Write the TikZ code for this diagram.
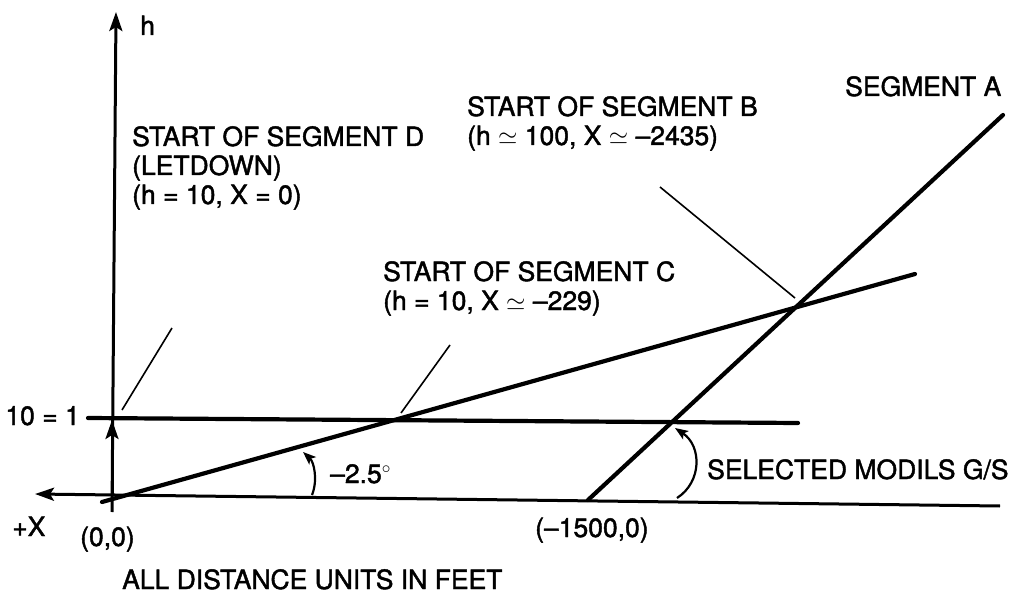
\documentclass[tikz,border=0pt]{standalone}
\usepackage{fontspec}
\setmainfont{TeX Gyre Heros}
\newfontfamily\lblfont{TeX Gyre Heros}[FakeBold=1.6]
\usetikzlibrary{arrows.meta}
\begin{document}
\begin{tikzpicture}[x=1pt,y=-1pt,
  lbl/.style={anchor=base west, inner sep=0pt, font=\lblfont\fontsize{26.5}{28}\selectfont},
  segline/.style={line width=4.2pt, line cap=round},
  axisline/.style={line width=3pt},
  leader/.style={line width=1.6pt},
  anglearc/.style={line width=2.2pt, -{Stealth[length=13pt,width=10pt,inset=3pt]}},
  axtip/.style={-{Stealth[length=19pt,width=13pt,inset=4pt]}}]
\useasboundingbox (0,0) rectangle (1018,599);
% coordinates
\coordinate (hbot) at (112,512);
\coordinate (htop) at (116,12);
\coordinate (xright) at (1000,506);
\coordinate (xleft) at (35,494);
\coordinate (O) at (112,496);
\coordinate (tenO) at (112,420);
\coordinate (ten0) at (88,418);
\coordinate (ten1) at (798,423);
\coordinate (c0) at (102,502);
\coordinate (c1) at (915,274);
\coordinate (a0) at (588,500);
\coordinate (a1) at (1003,115);
\coordinate (dl0) at (122,410);
\coordinate (dl1) at (172,328);
\coordinate (cl0) at (401,413);
\coordinate (cl1) at (450,345);
\coordinate (bl0) at (795,298);
\coordinate (bl1) at (660,187);
\coordinate (g0) at (312,495);
\coordinate (g1) at (303,452);
\coordinate (m0) at (677,498);
\coordinate (m1) at (675,428);
% axes
\draw[axisline,axtip] (hbot) -- (htop);
\draw[axisline,axtip] (xright) -- (xleft);
\draw[axisline,axtip] (O) -- (tenO);
% lines
\draw[segline] (ten0) -- (ten1);
\draw[segline] (c0) -- (c1);
\draw[segline] (a0) -- (a1);
% leaders
\draw[leader] (dl0) -- (dl1);
\draw[leader] (cl0) -- (cl1);
\draw[leader] (bl0) -- (bl1);
% angle arcs
\draw[anglearc] (g0) .. controls (318,480) and (314,462) .. (g1);
\draw[anglearc] (m0) .. controls (702,482) and (702,446) .. (m1);
% labels
\node[lbl] (hl) at (140,35) {h};
\node[lbl] (d1) at (132,146) {START OF SEGMENT D};
\node[lbl] (d2) at (132,175) {(LETDOWN)};
\node[lbl] (d3) at (132,204) {(h = 10, X = 0)};
\node[lbl] (b1) at (467,116) {START OF SEGMENT B};
\node[lbl] (b2) at (467,145) {(h $\simeq$ 100, X $\simeq$ –2435)};
\node[lbl] (sa) at (845,96) {SEGMENT A};
\node[lbl] (c1l) at (383,281) {START OF SEGMENT C};
\node[lbl] (c2l) at (383,310) {(h = 10, X $\simeq$ –229)};
\node[lbl,anchor=base east] (tenl) at (80,425) {10 = 1};
\node[lbl] (gl) at (330,483) {–2.5${}^\circ$};
\node[lbl] (ml) at (707,479) {SELECTED MODILS G/S};
\node[lbl] (px) at (12,536) {+X};
\node[lbl] (ol) at (80,546) {(0,0)};
\node[lbl] (fl) at (535,537) {(–1500,0)};
\node[lbl] (note) at (122,589) {ALL DISTANCE UNITS IN FEET};
\end{tikzpicture}
\end{document}
